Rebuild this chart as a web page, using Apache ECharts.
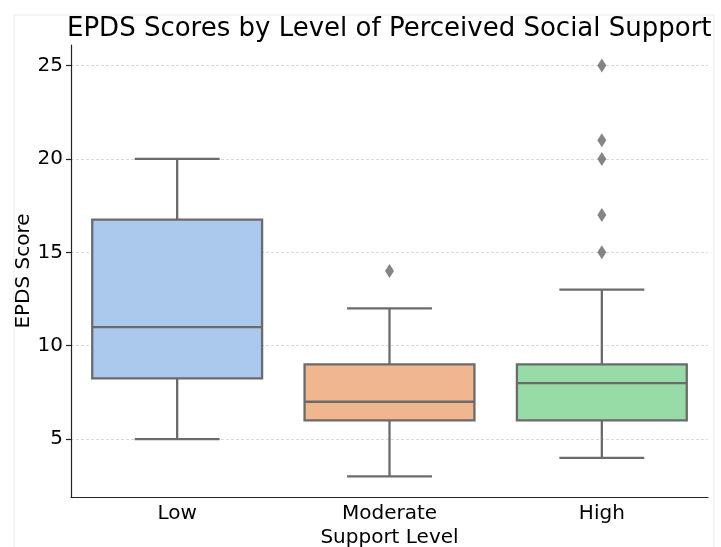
<!DOCTYPE html>
<html>
<head>
<meta charset="utf-8">
<script src="https://cdn.jsdelivr.net/npm/echarts@6/dist/echarts.min.js"></script>
<style>
html,body{margin:0;padding:0;background:#fff;}
#c{width:721px;height:547px;}
</style>
</head>
<body>
<div id="c"></div>
<script>
const categories = ['Low', 'Moderate', 'High'];
// [min whisker, Q1, median, Q3, max whisker]
const lowBox = [5, 8.25, 11, 16.75, 20];
const moderateBox = [3, 6, 7, 9, 12];
const highBox = [4, 6, 8, 9, 13];
const lowOutliers = [];
const moderateOutliers = [14];
const highOutliers = [15, 17, 20, 21, 25];
const yTicks = [5, 10, 15, 20, 25];
const boxColors = ['#abc9ec', '#f0b690', '#97dba6'];

const boxes = [lowBox, moderateBox, highBox];
const boxData = boxes.map((b, i) => [i].concat(b));
const outlierData = [];
[lowOutliers, moderateOutliers, highOutliers].forEach((arr, i) => {
  arr.forEach(v => outlierData.push([i, v]));
});

const LINE = '#6b6b6b';
const chart = echarts.init(document.getElementById('c'));

function renderBox(params, api) {
  const idx = api.value(0);
  const vmin = api.value(1), q1 = api.value(2), med = api.value(3), q3 = api.value(4), vmax = api.value(5);
  const band = api.size([1, 0])[0];
  const hw = band * 0.4;
  const cw = band * 0.2;
  const pMin = api.coord([idx, vmin]);
  const pQ1 = api.coord([idx, q1]);
  const pMed = api.coord([idx, med]);
  const pQ3 = api.coord([idx, q3]);
  const pMax = api.coord([idx, vmax]);
  const cx = pMed[0];
  const ls = { stroke: LINE, lineWidth: 2.3 };
  return {
    type: 'group',
    children: [
      { type: 'line', shape: { x1: cx, y1: pQ1[1], x2: cx, y2: pMin[1] }, style: ls },
      { type: 'line', shape: { x1: cx, y1: pQ3[1], x2: cx, y2: pMax[1] }, style: ls },
      { type: 'line', shape: { x1: cx - cw, y1: pMin[1], x2: cx + cw, y2: pMin[1] }, style: ls },
      { type: 'line', shape: { x1: cx - cw, y1: pMax[1], x2: cx + cw, y2: pMax[1] }, style: ls },
      { type: 'rect', shape: { x: cx - hw, y: pQ3[1], width: hw * 2, height: pQ1[1] - pQ3[1] },
        style: { fill: boxColors[idx], stroke: LINE, lineWidth: 2.3 } },
      { type: 'line', shape: { x1: cx - hw, y1: pMed[1], x2: cx + hw, y2: pMed[1] }, style: ls }
    ]
  };
}

const FONT = 'DejaVu Sans';
chart.setOption({
  animation: false,
  backgroundColor: '#fff',
  title: {
    text: 'EPDS Scores by Level of Perceived Social Support',
    left: 67, top: 16, padding: 0,
    textStyle: { fontFamily: FONT, fontSize: 26, fontWeight: 'normal', color: '#000' }
  },
  grid: { left: 71, right: 13, top: 45, bottom: 50, outerBoundsMode: 'none', containLabel: false },
  xAxis: {
    type: 'category',
    data: categories,
    name: 'Support Level',
    nameLocation: 'middle',
    nameGap: 31,
    nameMoveOverlap: false,
    nameTextStyle: { fontFamily: FONT, fontSize: 20, color: '#000' },
    axisLine: { lineStyle: { color: '#222', width: 1.2 } },
    axisTick: { alignWithLabel: true, length: 5, lineStyle: { color: '#222', width: 1.2 } },
    axisLabel: { fontFamily: FONT, fontSize: 20, color: '#000', margin: 7 },
    splitLine: { show: false }
  },
  yAxis: {
    type: 'value',
    min: 1.9, max: 26.1,
    name: 'EPDS Score',
    nameLocation: 'middle',
    nameGap: 37,
    nameRotate: 90,
    nameMoveOverlap: false,
    nameTextStyle: { fontFamily: FONT, fontSize: 20, color: '#000' },
    axisLine: { show: true, lineStyle: { color: '#222', width: 1.2 } },
    axisTick: { show: true, length: 5, customValues: yTicks, lineStyle: { color: '#222', width: 1.2 } },
    axisLabel: { fontFamily: FONT, fontSize: 20, color: '#000', margin: 8, customValues: yTicks },
    splitLine: { show: true, lineStyle: { color: '#cfcfcf', width: 0.8, type: [3, 2] } }
  },
  series: [
    {
      type: 'custom',
      renderItem: renderBox,
      data: boxData,
      encode: { x: 0, y: [1, 2, 3, 4, 5] },
      z: 2
    },
    {
      type: 'scatter',
      data: outlierData,
      symbol: 'diamond',
      symbolSize: [9, 14],
      itemStyle: { color: '#666' },
      z: 3
    }
  ],
  graphic: [
    { type: 'line', silent: true, shape: { x1: 14, y1: 15, x2: 714, y2: 15 }, style: { stroke: '#ececec', lineWidth: 1 } },
    { type: 'line', silent: true, shape: { x1: 14, y1: 15, x2: 14, y2: 547 }, style: { stroke: '#ececec', lineWidth: 1 } },
    { type: 'line', silent: true, shape: { x1: 714, y1: 15, x2: 714, y2: 547 }, style: { stroke: '#ececec', lineWidth: 1 } }
  ]
});
</script>
</body>
</html>
